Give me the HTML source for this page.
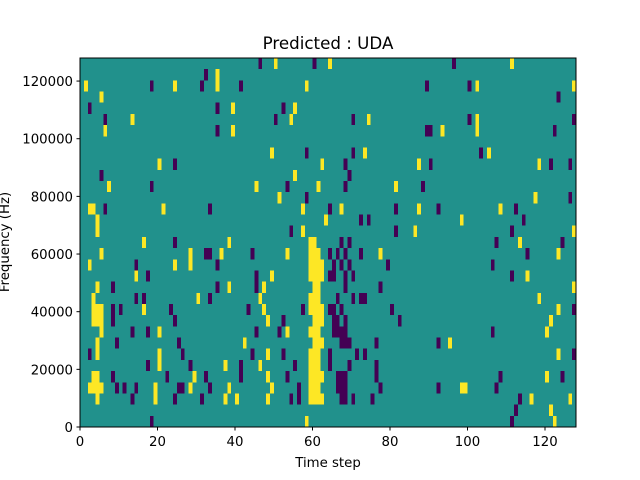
<!DOCTYPE html>
<html><head><meta charset="utf-8"><style>
html,body{margin:0;padding:0;background:#fff;width:640px;height:480px;overflow:hidden}
svg{font-family:"DejaVu Sans","Liberation Sans",sans-serif}
</style></head><body>
<svg id="chart" width="640" height="480" viewBox="0 0 640 480" xmlns="http://www.w3.org/2000/svg">
<rect width="640" height="480" fill="#fff"/>
<text x="328" y="49" text-anchor="middle" font-size="16.7">Predicted : UDA</text>
<g id="cells"></g>
<rect x="80" y="58" width="496" height="369" fill="none" stroke="#000" stroke-width="1"/>
<g id="axes"></g>
<text x="328" y="467" text-anchor="middle" font-size="13.3">Time step</text>
<text transform="translate(9,242) rotate(-90)" text-anchor="middle" font-size="13.3">Frequency (Hz)</text>
</svg>
<script>
const nTime = 128;
const nFreqBins = 33;
const freqMax = 128000;
const xTicks = [0,20,40,60,80,100,120];
const yTicks = [0,20000,40000,60000,80000,100000,120000];
const yTickLabels = ["0","20000","40000","60000","80000","100000","120000"];
// [time step, frequency bin]
const yellowCells = [
[1,30],[24,30],[5,29],[13,27],[6,26],[20,23],[7,21],[2,19],[3,19],[21,19],[4,18],[4,17],[16,16],
[5,15],[28,14],[28,15],[2,14],[24,14],[14,13],[4,12],[3,11],[3,10],[3,9],[4,10],[4,9],[5,10],[5,9],[5,8],
[30,11],[16,10],[20,8],[4,7],[4,6],[20,6],[20,5],[3,4],[4,4],[29,4],[2,3],[3,3],[4,3],[5,3],[4,2],
[28,3],[19,3],[19,2],
[50,32],[35,31],[35,30],[58,30],[39,28],[55,28],[54,27],[39,26],[49,24],[62,23],[55,22],[45,21],[61,21],
[51,20],[57,19],[63,18],[57,17],[38,16],[36,15],[53,15],[49,13],[38,12],[47,12],[46,11],[47,10],[48,9],
[53,8],[42,7],[48,6],[37,5],[46,5],[48,4],[38,3],[49,3],[37,2],[40,2],[48,2],[58,0],
[59,16],[60,16],[59,15],[60,15],[61,15],[59,14],[60,14],[61,14],[62,14],[59,13],[60,13],[61,13],[62,13],
[60,12],[61,12],[59,11],[60,11],[61,11],[59,10],[60,10],[61,10],[62,10],[60,9],[61,9],[62,9],
[59,8],[60,8],[61,8],[60,7],[61,7],[62,7],[59,6],[60,6],[61,6],[59,5],[60,5],[61,5],
[59,4],[60,4],[61,4],[62,4],[59,3],[60,3],[61,3],[59,2],[60,2],[61,2],[62,2],
[64,32],[74,27],[93,26],[73,24],[87,23],[81,21],[67,19],[87,19],[86,17],[77,15],[95,7],
[111,32],[102,30],[127,30],[102,27],[102,26],[105,24],[118,23],[117,20],[108,19],[98,18],[127,17],[113,16],
[123,15],[115,13],[127,12],[118,11],[123,10],[121,9],[120,8],[123,6],[120,4],[98,3],[99,3],[116,2],[126,2],
[121,1],[122,0]
];
const purpleCells = [
[18,30],[31,30],[2,28],[6,27],[24,23],[5,22],[18,21],[6,19],[24,16],
[14,14],[17,13],[8,12],[14,11],[16,11],[8,10],[8,9],[10,10],[23,10],[24,9],[13,8],[17,8],
[9,7],[25,7],[2,6],[26,6],[17,5],[28,5],[8,4],[22,4],[9,3],[11,3],[14,3],[25,3],[26,3],
[13,2],[24,2],[31,2],[18,0],
[46,32],[60,32],[32,31],[41,30],[35,28],[52,28],[50,27],[35,26],[58,24],[53,21],[58,20],[33,19],[54,17],
[32,15],[33,15],[44,15],[35,14],[45,13],[35,12],[45,12],[33,11],[43,10],[57,10],[52,9],[45,8],[51,8],
[44,6],[52,6],[41,5],[41,4],[55,5],[32,4],[53,4],[33,3],[56,3],[56,2],[54,2],
[89,30],[70,27],[89,26],[90,26],[70,24],[68,23],[90,23],[69,22],[68,21],[88,21],[64,19],[81,19],[92,19],
[72,18],[74,18],[81,17],[67,16],[69,16],
[64,15],[66,15],[68,15],[72,15],[65,14],[67,14],[69,14],[79,14],[64,13],[65,13],[68,13],[68,12],[70,13],
[77,12],[66,11],[70,11],[72,11],[73,11],[64,10],[65,10],[67,10],[80,10],[65,9],[66,9],[68,9],[82,9],
[65,8],[66,8],[67,8],[68,8],[67,7],[68,7],[69,7],[76,7],[92,7],[64,6],[64,5],[71,6],[73,6],[69,5],
[76,5],[76,4],[66,4],[67,4],[68,4],[66,3],[67,3],[68,3],[77,3],[92,3],[67,2],[68,2],[70,2],[75,2],
[96,32],[100,30],[123,29],[100,27],[127,27],[122,26],[103,24],[121,23],[126,23],[126,20],[112,19],[114,18],
[111,17],[107,16],[124,16],[115,15],[106,14],[111,13],[127,10],[106,8],[127,6],[108,4],[124,4],[107,3],
[113,2],[112,1],[111,0]
];
const NS = "http://www.w3.org/2000/svg";
const X0 = 80, X1 = 576, Y0 = 427, Y1 = 58;
function xScale(t){ return X0 + t*(X1-X0)/nTime; }
function yScale(f){ return Y0 - f*(Y0-Y1)/freqMax; }
function binFreq(j){ return j*freqMax/nFreqBins; }
const cells = document.getElementById('cells');
const bg = document.createElementNS(NS,'rect');
bg.setAttribute('x',X0); bg.setAttribute('y',Y1);
bg.setAttribute('width',X1-X0); bg.setAttribute('height',Y0-Y1);
bg.setAttribute('fill','#21918c');


cells.appendChild(bg);
function drawCells(list, color, name){
  list.forEach(c => {
    const r = document.createElementNS(NS,'rect');
    const x = xScale(c[0]), x2 = xScale(c[0]+1);
    const yT = yScale(binFreq(c[1]+1)), yB = yScale(binFreq(c[1]));
    r.setAttribute('x', x); r.setAttribute('y', yT);
    r.setAttribute('width', x2-x); r.setAttribute('height', yB-yT);
    r.setAttribute('fill', color);
    r.setAttribute('shape-rendering','crispEdges');
    
    
    cells.appendChild(r);
  });
}
drawCells(yellowCells, '#fde725', 'cell-high');
drawCells(purpleCells, '#440154', 'cell-low');
const axes = document.getElementById('axes');
xTicks.forEach(v => {
  const x = xScale(v);
  const l = document.createElementNS(NS,'line');
  l.setAttribute('x1',x); l.setAttribute('x2',x); l.setAttribute('y1',427); l.setAttribute('y2',430.5);
  l.setAttribute('stroke','#000');
  
  
  axes.appendChild(l);
  const t = document.createElementNS(NS,'text');
  t.setAttribute('x',x); t.setAttribute('y',446); t.setAttribute('text-anchor','middle'); t.setAttribute('font-size','13.3');
  t.textContent = String(v);
  
  
  axes.appendChild(t);
});
yTicks.forEach((v,i) => {
  const y = yScale(v);
  const l = document.createElementNS(NS,'line');
  l.setAttribute('x1',76.5); l.setAttribute('x2',80); l.setAttribute('y1',y); l.setAttribute('y2',y);
  l.setAttribute('stroke','#000');
  
  
  axes.appendChild(l);
  const t = document.createElementNS(NS,'text');
  t.setAttribute('x',73); t.setAttribute('y',y+5); t.setAttribute('text-anchor','end'); t.setAttribute('font-size','13.3');
  t.textContent = yTickLabels[i];
  
  
  axes.appendChild(t);
});
</script>
</body></html>
